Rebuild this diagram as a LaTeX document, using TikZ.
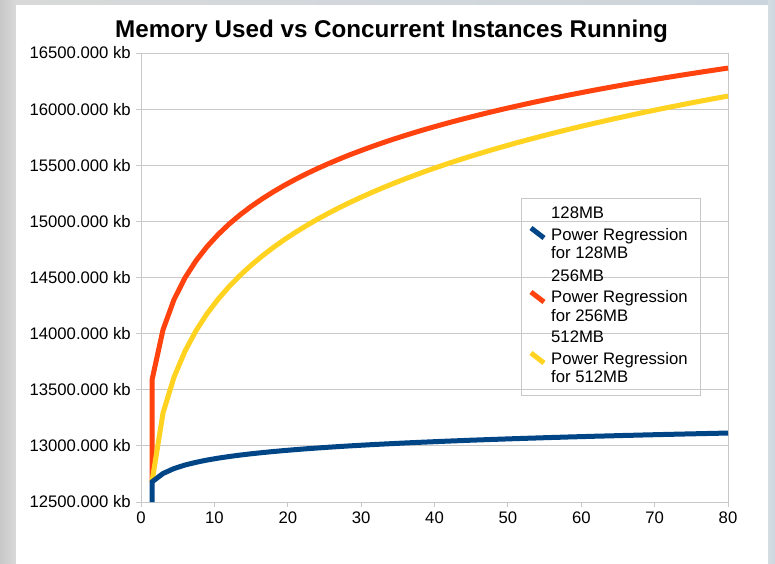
\documentclass[tikz,border=0pt]{standalone}
\usepackage{fontspec}
\setmainfont{Liberation Sans}
\definecolor{mem128}{HTML}{004586}
\definecolor{mem256}{HTML}{FF420E}
\definecolor{mem512}{HTML}{FFD320}
\definecolor{gridgray}{HTML}{C8C8C8}
\definecolor{frameblue}{HTML}{CBD5DD}
\definecolor{framegray}{HTML}{D9D9D9}

\begin{document}
\begin{tikzpicture}[x=1pt,y=-1pt,
        ylab/.style={anchor=east,inner sep=0pt,font=\fontsize{16.7}{19}\selectfont},
        xlab/.style={anchor=north,inner sep=0pt,font=\fontsize{16.7}{19}\selectfont},
        leg/.style={anchor=base west,inner sep=0pt,font=\fontsize{16.7}{19}\selectfont},
        curve/.style={line width=5pt,line join=round},
        legmark/.style={line width=5pt}]

        \useasboundingbox (0,0) rectangle (775,563);

        %%% Frame
        \shade[left color=framegray!92!black, right color=framegray] (0,0) rectangle (16,563);
        \shade[left color=framegray, right color=frameblue] (16,0) rectangle (775,5);
        \shade[left color=frameblue!80, right color=frameblue] (768,0) rectangle (775,563);
        \fill[white] (16,5) rectangle (768,563);

        \node[font=\bfseries\fontsize{24.2}{28}\selectfont,anchor=base] (Title) at (391.5,37.5) {Memory Used vs Concurrent Instances Running};

        %%% Grid and axes
        \foreach \gy in {53,109.125,...,503} {
            \draw[gridgray,line width=1pt] (136,\gy) -- (728,\gy);
        }
        \draw[gridgray,line width=1pt] (141,53) -- (141,507);
        \draw[gridgray,line width=1pt] (728,53) -- (728,507);
        \foreach \gx in {214.375,287.75,...,655} {
            \draw[gridgray,line width=1pt] (\gx,502) -- (\gx,507);
        }

        \node[ylab] (Y16500) at (131,53) {16500.000 kb};
        \node[ylab] (Y16000) at (131,109.1) {16000.000 kb};
        \node[ylab] (Y15500) at (131,165.3) {15500.000 kb};
        \node[ylab] (Y15000) at (131,221.4) {15000.000 kb};
        \node[ylab] (Y14500) at (131,277.5) {14500.000 kb};
        \node[ylab] (Y14000) at (131,333.6) {14000.000 kb};
        \node[ylab] (Y13500) at (131,389.8) {13500.000 kb};
        \node[ylab] (Y13000) at (131,445.9) {13000.000 kb};
        \node[ylab] (Y12500) at (131,502) {12500.000 kb};

        \node[xlab] (X0) at (141,512) {0};
        \node[xlab] (X10) at (214.4,512) {10};
        \node[xlab] (X20) at (287.8,512) {20};
        \node[xlab] (X30) at (361.1,512) {30};
        \node[xlab] (X40) at (434.5,512) {40};
        \node[xlab] (X50) at (507.9,512) {50};
        \node[xlab] (X60) at (581.3,512) {60};
        \node[xlab] (X70) at (654.6,512) {70};
        \node[xlab] (X80) at (728,512) {80};

        %%% Power regression curves
        \draw[mem256,curve] (152,481.8) -- (152,380)
            -- plot[samples at={3,4.5,...,79.5,80}] ({141+7.3375*\x},{1905.125-1496.5*\x^0.0468});
        \draw[mem512,curve] (152,481.8)
            -- plot[samples at={3,4.5,...,79.5,80}] ({141+7.3375*\x},{1905.125-1399.0*\x^0.05867});
        \draw[mem128,curve] (152,502) -- (152,481.8)
            -- plot[samples at={1.5,3,...,79.5,80}] ({141+7.3375*\x},{1905.125-1418.4*\x^0.00849});

        %%% Legend
        \node[draw=gridgray,line width=1pt,minimum width=179pt,minimum height=197pt,anchor=north west] (Legend) at (521,198) {};
        \node[leg] (L128) at (551,218.5) {128MB};
        \node[leg] (P128) at (551,240) {Power Regression};
        \node[leg] (F128) at (551,258.5) {for 128MB};
        \node[leg] (L256) at (551,281) {256MB};
        \node[leg] (P256) at (551,302.5) {Power Regression};
        \node[leg] (F256) at (551,321) {for 256MB};
        \node[leg] (L512) at (551,342.5) {512MB};
        \node[leg] (P512) at (551,364) {Power Regression};
        \node[leg] (F512) at (551,382.5) {for 512MB};
        \draw[mem128,legmark] (531,228) -- (544,238);
        \draw[mem256,legmark] (531,292) -- (544,302);
        \draw[mem512,legmark] (531,353) -- (544,363);
\end{tikzpicture}
\end{document}
